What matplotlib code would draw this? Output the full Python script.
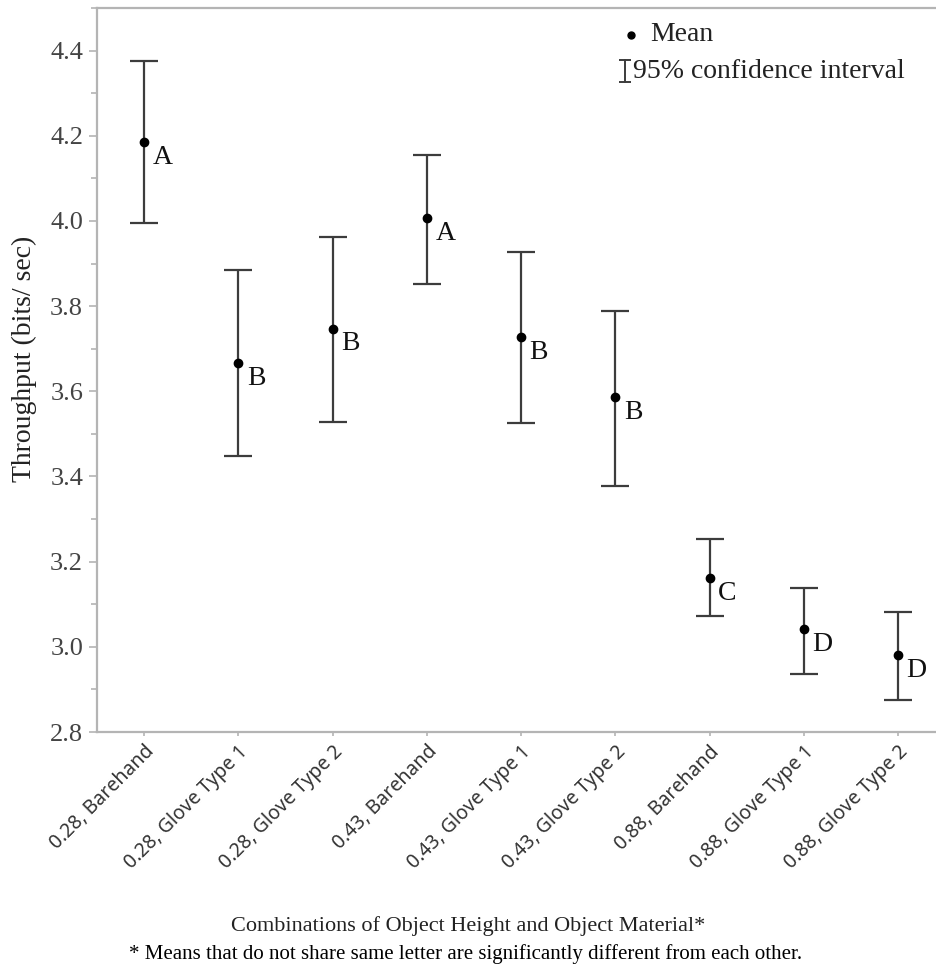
import matplotlib.pyplot as plt
import numpy as np
from matplotlib.ticker import MultipleLocator

# Throughput by object height / material combination
conditions = ['0.28, Barehand', '0.28, Glove Type 1', '0.28, Glove Type 2',
              '0.43, Barehand', '0.43, Glove Type 1', '0.43, Glove Type 2',
              '0.88, Barehand', '0.88, Glove Type 1', '0.88, Glove Type 2']
means = [4.186, 3.667, 3.747, 4.006, 3.727, 3.586, 3.161, 3.041, 2.980]
ci_low = [3.995, 3.449, 3.529, 3.853, 3.526, 3.378, 3.072, 2.937, 2.875]
ci_high = [4.376, 3.884, 3.963, 4.155, 3.927, 3.788, 3.253, 3.139, 3.082]
groups = ['A', 'B', 'B', 'A', 'B', 'B', 'C', 'D', 'D']

serif = 'Liberation Serif'
bar_color = '#3c3c3c'
axis_color = '#b4b4b4'

fig = plt.figure(figsize=(9.36, 9.66), dpi=100)
ax = fig.add_axes([0.1036, 0.2422, 0.8964, 0.7495])

x = np.arange(len(conditions))
m = np.array(means)
yerr = [m - np.array(ci_low), np.array(ci_high) - m]

ax.errorbar(x, m, yerr=yerr, fmt='none', ecolor=bar_color, elinewidth=1.6,
            capsize=10, capthick=1.6, zorder=2)
ax.plot(x, m, 'o', color='black', ms=6, zorder=3)

for xi, yi, g in zip(x, m, groups):
    ax.annotate(g, (xi, yi), xytext=(6, -11), textcoords='offset points',
                ha='left', va='center', fontsize=20, family=serif,
                color='#111111')

ax.set_xlim(-0.5, 8.4)
ax.set_ylim(2.8, 4.5)
ax.yaxis.set_major_locator(MultipleLocator(0.2))
ax.yaxis.set_minor_locator(MultipleLocator(0.1))
ax.yaxis.set_major_formatter(plt.FuncFormatter(lambda v, p: f'{v:.1f}'))

ax.set_xticks(x)
ax.set_xticklabels(conditions, rotation=45, ha='right', rotation_mode='anchor',
                   family='Noto Sans', fontsize=14, color='#333333')
for lbl in ax.get_yticklabels():
    lbl.set_family(serif)
    lbl.set_fontsize(19)
    lbl.set_color('#444444')

ax.tick_params(axis='y', which='major', length=6, width=1.2, color=axis_color, pad=4)
ax.tick_params(axis='y', which='minor', length=4, width=1.2, color=axis_color)
ax.tick_params(axis='x', length=3, width=1.2, color=axis_color, pad=4)

for side in ['left', 'bottom', 'top']:
    ax.spines[side].set_color(axis_color)
    ax.spines[side].set_linewidth(1.6)
ax.spines['right'].set_visible(False)

ax.set_ylabel('Throughput (bits/ sec)', family=serif, fontsize=20,
              color='#222222')
ax.yaxis.set_label_coords(-0.072, 0.515)

# legend drawn by hand
ax.plot([0.636], [0.963], 'o', color='black', ms=5, transform=ax.transAxes,
        clip_on=False)
ax.text(0.659, 0.963, 'Mean', transform=ax.transAxes, family=serif,
        fontsize=20, va='center', ha='left', color='#222222')
ax.plot([0.629, 0.629], [0.898, 0.928], color=bar_color, lw=1.4,
        transform=ax.transAxes)
ax.plot([0.629, 0.629], [0.898, 0.928], '_', color=bar_color, ms=8, mew=1.4,
        transform=ax.transAxes)
ax.text(0.639, 0.913, '95% confidence interval', transform=ax.transAxes,
        family=serif, fontsize=20, va='center', ha='left', color='#222222')

fig.text(0.50, 1 - 926 / 966, 'Combinations of Object Height and Object Material*',
         family=serif, fontsize=16, ha='center', va='center', color='#222222')
fig.text(0.497, 1 - 954 / 966,
         '* Means that do not share same letter are significantly different from each other.',
         family=serif, fontsize=15, ha='center', va='center', color='black')

fig.savefig('out.png', dpi=100)
